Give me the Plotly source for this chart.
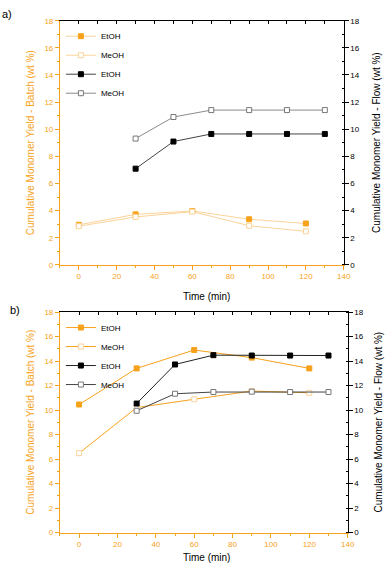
import plotly.graph_objects as go

# ---------------- data ----------------
time_batch = [0, 30, 60, 90, 120]
time_flow = [30, 50, 70, 90, 110, 130]

# panel a
a_batch_etoh = [2.95, 3.72, 3.97, 3.36, 3.05]
a_batch_meoh = [2.85, 3.53, 3.92, 2.88, 2.47]
a_flow_etoh = [7.09, 9.09, 9.65, 9.65, 9.65, 9.65]
a_flow_meoh = [9.31, 10.9, 11.41, 11.41, 11.41, 11.41]

# panel b
b_batch_etoh = [10.45, 13.4, 14.9, 14.28, 13.4]
b_batch_meoh = [6.48, 10.2, 10.88, 11.55, 11.41]
b_flow_etoh = [10.53, 13.72, 14.48, 14.45, 14.45, 14.45]
b_flow_meoh = [9.94, 11.33, 11.47, 11.5, 11.47, 11.47]

labels = ["EtOH", "MeOH", "EtOH", "MeOH"]
x_ticks = [0, 20, 40, 60, 80, 100, 120, 140]
y_ticks = [0, 2, 4, 6, 8, 10, 12, 14, 16, 18]

ORANGE = "#F7A21B"
PALE = "#FBD39A"
FONT = "Liberation Sans, Arial, sans-serif"

W, H = 392, 570

fig = go.Figure()

def add(x, y, name, xa, ya, line_col, mk_fill, mk_line, legend):
    fig.add_trace(go.Scatter(
        x=x, y=y, name=name, mode="lines+markers",
        xaxis=xa, yaxis=ya, legend=legend,
        line=dict(color=line_col, width=1),
        marker=dict(symbol="square", size=5, color=mk_fill,
                    line=dict(color=mk_line, width=1)),
    ))

# panel a
add(time_batch, a_batch_etoh, labels[0], "x", "y", PALE, ORANGE, ORANGE, "legend")
add(time_batch, a_batch_meoh, labels[1], "x", "y", PALE, "white", PALE, "legend")
add(time_flow, a_flow_etoh, labels[2], "x", "y2", "#444444", "black", "black", "legend")
add(time_flow, a_flow_meoh, labels[3], "x", "y2", "#8a8a8a", "white", "#777777", "legend")
# panel b
add(time_batch, b_batch_etoh, labels[0], "x2", "y3", ORANGE, ORANGE, ORANGE, "legend2")
add(time_batch, b_batch_meoh, labels[1], "x2", "y3", ORANGE, "white", PALE, "legend2")
add(time_flow, b_flow_etoh, labels[2], "x2", "y4", "#222222", "black", "black", "legend2")
add(time_flow, b_flow_meoh, labels[3], "x2", "y4", "#444444", "white", "#777777", "legend2")

# dummy traces for the black top axes
for xa, ya in (("x3", "y"), ("x4", "y3")):
    fig.add_trace(go.Scatter(x=[None], y=[None], xaxis=xa, yaxis=ya,
                             showlegend=False, hoverinfo="skip"))

def px_x(p):
    return p / W

def px_y(p):
    return 1 - p / H

dom_xa = [px_x(61), px_x(350)]
dom_xb = [px_x(61), px_x(354)]
dom_ya = [px_y(265), px_y(17)]
dom_yb = [px_y(537), px_y(313)]

tickf_o = dict(family=FONT, size=8, color=ORANGE)
tickf_k = dict(family=FONT, size=8, color="black")

def xbottom(dom, anchor):
    return dict(domain=dom, anchor=anchor, range=[-10, 140], tickvals=x_ticks,
                showline=True, linecolor=ORANGE, linewidth=1, ticks="outside",
                ticklen=4, tickcolor=ORANGE, tickfont=tickf_o, showgrid=False,
                zeroline=False,
                minor=dict(dtick=10, tick0=0, ticks="outside", ticklen=2,
                           tickcolor=ORANGE, showgrid=False))

def xtop(over, anchor):
    return dict(overlaying=over, anchor=anchor, side="top", range=[-10, 140],
                tickvals=x_ticks, showticklabels=False, showline=True,
                linecolor="black", linewidth=1, ticks="inside", ticklen=3,
                tickcolor="black", showgrid=False, zeroline=False,
                minor=dict(dtick=10, tick0=0, ticks="inside", ticklen=3,
                           tickcolor="black", showgrid=False))

def yleft(dom, anchor):
    return dict(domain=dom, anchor=anchor, range=[0, 18], tickvals=y_ticks,
                showline=True, linecolor=ORANGE, linewidth=1, ticks="outside",
                ticklen=4, tickcolor=ORANGE, tickfont=tickf_o, showgrid=False,
                zeroline=False,
                minor=dict(dtick=1, tick0=0, ticks="outside", ticklen=2,
                           tickcolor=ORANGE, showgrid=False))

def yright(over, anchor):
    return dict(overlaying=over, anchor=anchor, side="right", range=[0, 18],
                tickvals=y_ticks, showline=True, linecolor="black", linewidth=1,
                ticks="outside", ticklen=4, tickcolor="black", tickfont=tickf_k,
                showgrid=False, zeroline=False,
                minor=dict(dtick=1, tick0=0, ticks="inside", ticklen=2,
                           tickcolor="black", showgrid=False))

legend_common = dict(font=dict(family=FONT, size=8, color="black"),
                     bgcolor="rgba(0,0,0,0)", borderwidth=0,
                     xanchor="left", yanchor="top", itemwidth=30,
                     tracegroupgap=0)

fig.update_layout(
    width=W, height=H,
    margin=dict(l=0, r=0, t=0, b=0),
    paper_bgcolor="white", plot_bgcolor="white",
    font=dict(family=FONT, size=10, color="black"),
    xaxis=xbottom(dom_xa, "y"),
    xaxis2=xbottom(dom_xb, "y3"),
    xaxis3=xtop("x", "y"),
    xaxis4=xtop("x2", "y3"),
    yaxis=yleft(dom_ya, "x"),
    yaxis2=yright("y", "x"),
    yaxis3=yleft(dom_yb, "x2"),
    yaxis4=yright("y3", "x2"),
    legend=dict(x=px_x(62), y=px_y(18), **legend_common),
    legend2=dict(x=px_x(62), y=px_y(314), **legend_common),
    showlegend=True,
)

ann = []
title_left = "Cumulative Monomer Yield - Batch (wt %)"
title_right = "Cumulative Monomer Yield - Flow (wt %)"
for (ymid, xr, ytime, lab, ylab, xlab) in (
        ((17 + 265) / 2, 384, 297, "a)", 10, 7),
        ((313 + 537) / 2, 385, 562, "b)", 311, 15)):
    ann.append(dict(x=px_x(31), y=px_y(ymid), xref="paper", yref="paper",
                    text=title_left, textangle=-90, showarrow=False,
                    font=dict(family=FONT, size=10, color=ORANGE),
                    xanchor="center", yanchor="middle"))
    ann.append(dict(x=px_x(xr), y=px_y(ymid), xref="paper", yref="paper",
                    text=title_right, textangle=-90, showarrow=False,
                    font=dict(family=FONT, size=10, color="black"),
                    xanchor="center", yanchor="middle"))
    ann.append(dict(x=px_x(210), y=px_y(ytime), xref="paper", yref="paper",
                    text="Time (min)", showarrow=False,
                    font=dict(family=FONT, size=10, color="black"),
                    xanchor="center", yanchor="middle"))
    ann.append(dict(x=px_x(xlab), y=px_y(ylab), xref="paper", yref="paper",
                    text=lab, showarrow=False,
                    font=dict(family=FONT, size=11, color="black"),
                    xanchor="center", yanchor="middle"))
fig.update_layout(annotations=ann)

# remove the browser's default 8px body margin so the figure fills the window
fig.write_html("out.html",
               config={"displayModeBar": False},
               post_script="document.body.style.margin='0';"
                           "document.body.style.overflow='hidden';")
